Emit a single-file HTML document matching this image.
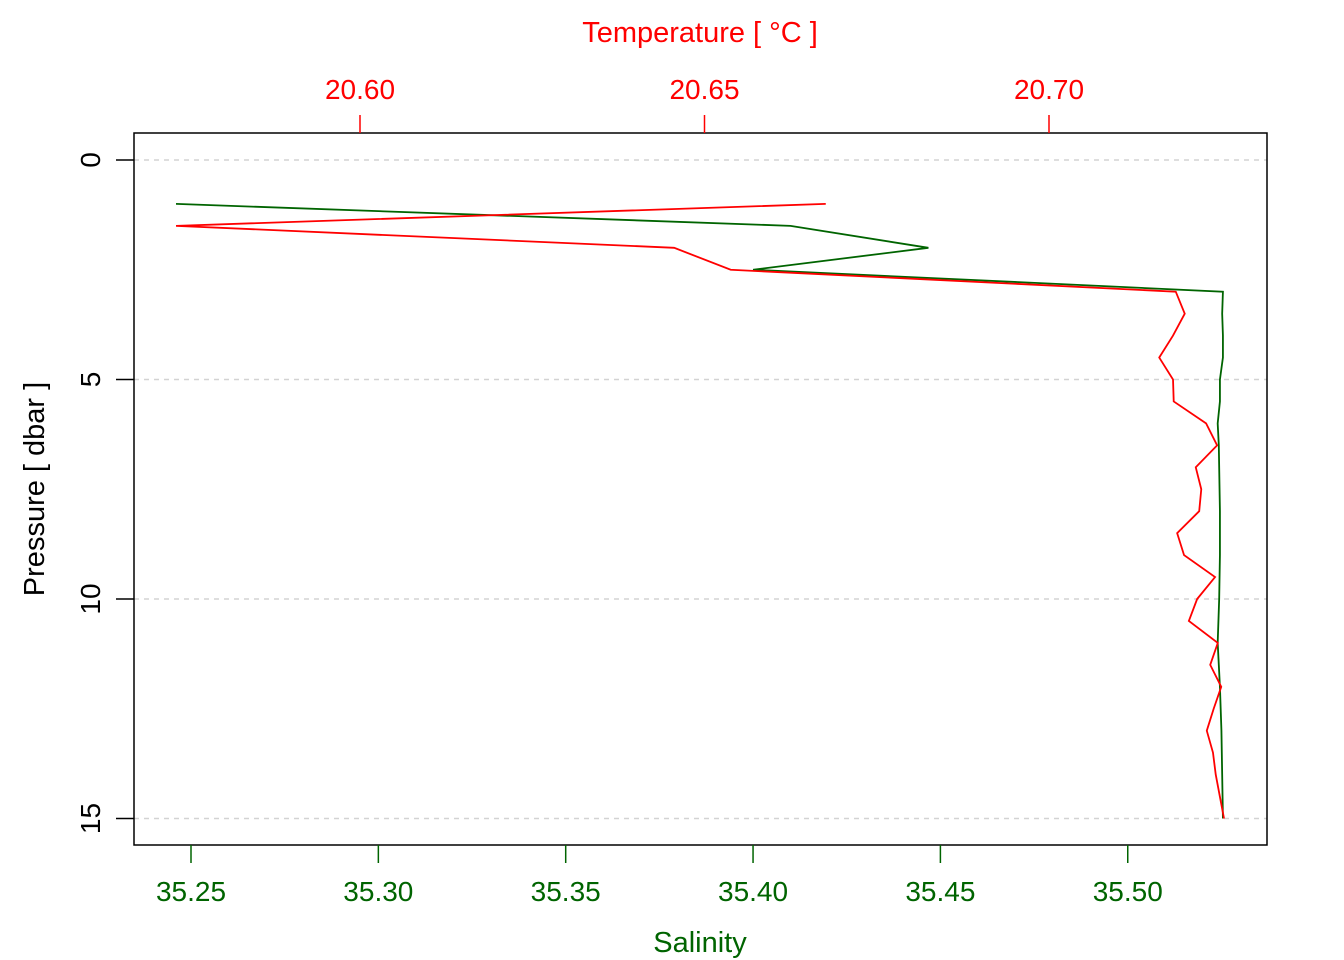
<!DOCTYPE html>
<html><head><meta charset="utf-8"><style>
body{margin:0;background:#fff}
svg{display:block;font-family:"Liberation Sans",sans-serif}
</style></head><body>
<svg id="chart" width="1344" height="960">
<rect x="0" y="0" width="1344" height="960" fill="#fff"/>
<g id="grid"></g>
<g id="series"></g>
<rect x="134" y="133" width="1133" height="712" fill="none" stroke="#000" stroke-width="1.5"/>
<g id="axes"></g>
<text x="700" y="42" text-anchor="middle" font-size="29" fill="#ff0000">Temperature [ °C ]</text>
<text x="700" y="952" text-anchor="middle" font-size="29" fill="#006400">Salinity</text>
<text transform="translate(44,489) rotate(-90)" text-anchor="middle" font-size="29" fill="#000">Pressure [ dbar ]</text>
</svg>
<script>
const pressure=[1,1.5,2,2.5,3,3.5,4,4.5,5,5.5,6,6.5,7,7.5,8,8.5,9,9.5,10,10.5,11,11.5,12,12.5,13,13.5,14,14.5,15];
const temperature=[20.6676,20.5733,20.6456,20.6538,20.7184,20.7197,20.7180,20.7160,20.7180,20.7181,20.7228,20.7244,20.7213,20.7221,20.7218,20.7186,20.7196,20.7241,20.7215,20.7203,20.7245,20.7234,20.7250,20.7239,20.7229,20.7238,20.7242,20.7248,20.7254];
const salinity=[35.2460,35.4100,35.4468,35.4000,35.5254,35.5252,35.5254,35.5254,35.5246,35.5246,35.5240,35.5243,35.5244,35.5245,35.5246,35.5246,35.5246,35.5245,35.5244,35.5242,35.5240,35.5243,35.5246,35.5248,35.5250,35.5251,35.5252,35.5253,35.5254];
const pTicks=[0,5,10,15];
const sTicks=[35.25,35.30,35.35,35.40,35.45,35.50];
const tTicks=[20.60,20.65,20.70];
const yP=p=>160+p*43.9;
const xS=s=>191+(s-35.25)*3747;
const xT=t=>360+(t-20.60)*6890;
const NS="http://www.w3.org/2000/svg";
function mk(tag,attrs,parent){const e=document.createElementNS(NS,tag);for(const k in attrs)e.setAttribute(k,attrs[k]);parent.appendChild(e);return e;}
const grid=document.getElementById('grid'),axes=document.getElementById('axes'),series=document.getElementById('series');
pTicks.forEach(p=>{
 const g=mk('line',{x1:134,x2:1267,y1:yP(p),y2:yP(p),stroke:'#d3d3d3','stroke-width':1.5,'stroke-dasharray':'5,5'},grid);
 
 
 mk('line',{x1:116,x2:134,y1:yP(p),y2:yP(p),stroke:'#000','stroke-width':1.5},axes);
 const t=mk('text',{transform:`translate(100,${yP(p)}) rotate(-90)`,'text-anchor':'middle','font-size':28,fill:'#000'},axes);
 t.textContent=p;
 
 
});
sTicks.forEach(s=>{
 mk('line',{x1:xS(s),x2:xS(s),y1:845,y2:863,stroke:'#006400','stroke-width':1.5},axes);
 const t=mk('text',{x:xS(s),y:901,'text-anchor':'middle','font-size':28,fill:'#006400'},axes);
 t.textContent=s.toFixed(2);
 
 
});
tTicks.forEach(v=>{
 mk('line',{x1:xT(v),x2:xT(v),y1:115,y2:133,stroke:'#ff0000','stroke-width':1.5},axes);
 const t=mk('text',{x:xT(v),y:99,'text-anchor':'middle','font-size':28,fill:'#ff0000'},axes);
 t.textContent=v.toFixed(2);
 
 
});
const sl=mk('polyline',{points:pressure.map((p,i)=>xS(salinity[i])+','+yP(p)).join(' '),fill:'none',stroke:'#006400','stroke-width':1.8},series);


const tl=mk('polyline',{points:pressure.map((p,i)=>xT(temperature[i])+','+yP(p)).join(' '),fill:'none',stroke:'#ff0000','stroke-width':1.8},series);


</script>
</body></html>
